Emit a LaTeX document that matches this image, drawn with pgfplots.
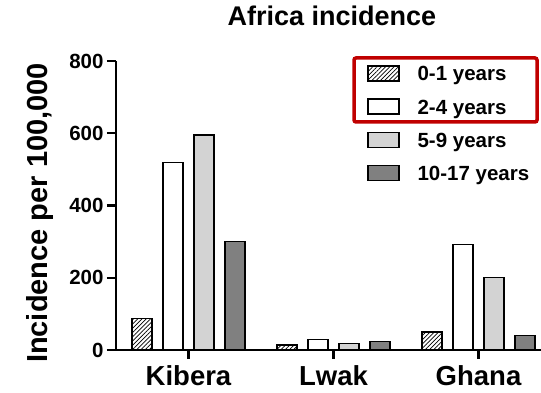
\documentclass[border=0pt]{standalone}
\usepackage{fontspec}
\setmainfont{Liberation Sans}
\usepackage{pgfplots}
\pgfplotsset{compat=1.18}
\usetikzlibrary{patterns,patterns.meta}
\definecolor{lightbar}{RGB}{211,211,211}
\definecolor{darkbar}{RGB}{128,128,128}
\definecolor{boxred}{RGB}{192,0,0}
\begin{document}
\begin{tikzpicture}[x=1pt,y=1pt]
\path[use as bounding box] (0,0) rectangle (541,393);
\begin{axis}[
  scale only axis, width=425pt, height=289pt,
  at={(116pt,43pt)}, anchor=south west,
  xmin=-0.5, xmax=2.431, ymin=0, ymax=800,
  axis x line*=bottom, axis y line*=left,
  axis line style={line width=2.2pt,-},
  ybar=11pt, bar width=20pt,
  xtick={0,1,2}, xticklabels={Kibera,Lwak,Ghana},
  ytick={0,200,400,600,800},
  minor tick num=0,
  tick align=outside, major tick length=9pt,
  tick style={line width=2.2pt, black},
  /pgf/number format/assume math mode=true,
  yticklabel style={font=\bfseries\fontsize{20.5}{24}\selectfont},
  xticklabel style={font=\bfseries\fontsize{27.5}{32}\selectfont, yshift=-3pt},
  clip=false,
  every axis plot/.append style={line width=1.2pt, draw=black,
    legend image code/.code={\draw[##1, line width=1.2pt] (0pt,0pt) rectangle (31pt,15pt);}},
  legend style={draw=none, fill=none, inner sep=0pt, outer sep=0pt,
    at={(rel axis cs:0.5915,0.985)}, anchor=north west,
    row sep=13pt, column sep=0pt,
    cells={anchor=base west},
    nodes={inner sep=0pt, text height=15pt, text depth=4.5pt},
    font=\bfseries\fontsize{20.5}{24}\selectfont},
  legend columns=1,
]
\addplot[fill=white, pattern={Lines[angle=45, distance=3pt, line width=0.8pt]}] coordinates {(0,88) (1,14) (2,50)};
\addplot[fill=white] coordinates {(0,520) (1,28) (2,291)};
\addplot[fill=lightbar] coordinates {(0,595) (1,17) (2,200)};
\addplot[fill=darkbar] coordinates {(0,300) (1,23) (2,40)};
\legend{\hspace{18pt}0-1 years,\hspace{18pt}2-4 years,\hspace{18pt}5-9 years,\hspace{18pt}10-17 years}
\end{axis}
\node[anchor=base, font=\bfseries\fontsize{27}{32}\selectfont] at (332,367) {Africa incidence};
\node[rotate=90, anchor=base, font=\bfseries\fontsize{29}{34}\selectfont] at (47,180) {Incidence per 100,000};
\draw[boxred, line width=3.5pt, rounded corners=2pt] (354,335) rectangle (537,271);
\end{tikzpicture}
\end{document}
